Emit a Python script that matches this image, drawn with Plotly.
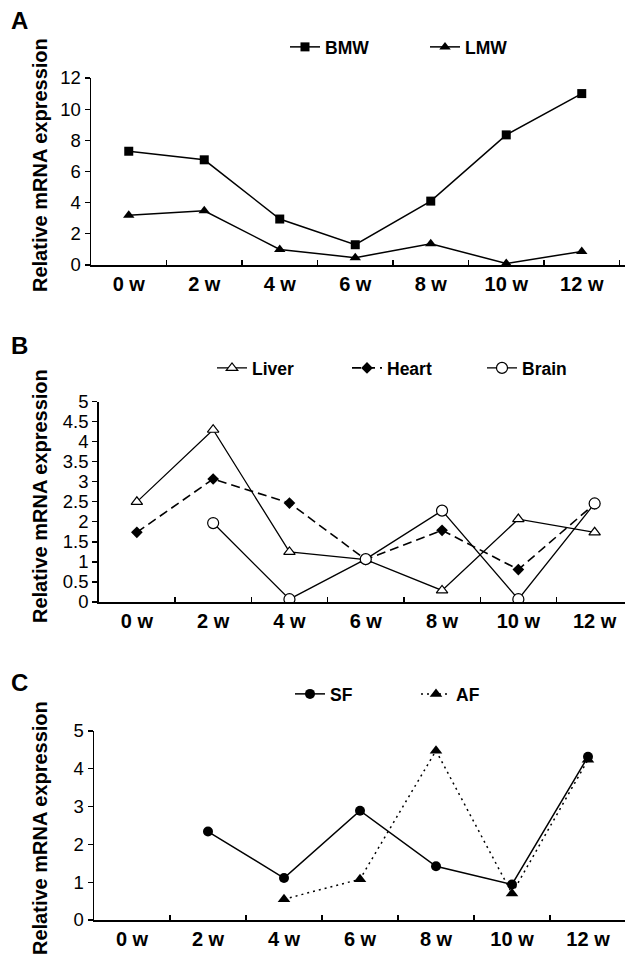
import plotly.graph_objects as go

weeks = ["0 w", "2 w", "4 w", "6 w", "8 w", "10 w", "12 w"]

# Panel A
bmw = [7.3, 6.75, 2.95, 1.3, 4.1, 8.35, 11.0]
lmw = [3.2, 3.48, 1.0, 0.47, 1.36, 0.1, 0.87]

# Panel B
liver = [2.5, 4.3, 1.25, 1.06, 0.29, 2.07, 1.74]
heart = [1.74, 3.07, 2.47, 1.06, 1.79, 0.81, 2.45]
brain = [None, 1.97, 0.07, 1.07, 2.28, 0.07, 2.46]

# Panel C
sf = [None, 2.34, 1.11, 2.89, 1.42, 0.94, 4.32]
af = [None, None, 0.55, 1.08, 4.48, 0.70, 4.24]

W, H = 625, 962
FONT = "Liberation Sans, Arial, sans-serif"
BLK = "black"


def py(v):
    return 1 - v / H


def px(v):
    return v / W


fig = go.Figure()

line = dict(color=BLK, width=1.5)

# A
fig.add_trace(go.Scatter(x=weeks, y=bmw, name="BMW", mode="lines+markers",
                         line=line, marker=dict(symbol="square", size=9, color=BLK),
                         xaxis="x", yaxis="y", legend="legend"))
fig.add_trace(go.Scatter(x=weeks, y=lmw, name="LMW", mode="lines+markers",
                         line=line, marker=dict(symbol="triangle-up", size=10, color=BLK),
                         xaxis="x", yaxis="y", legend="legend"))
# B
fig.add_trace(go.Scatter(x=weeks, y=liver, name="Liver", mode="lines+markers",
                         line=dict(color=BLK, width=1.3),
                         marker=dict(symbol="triangle-up", size=10, color="white",
                                     line=dict(color=BLK, width=1.2)),
                         xaxis="x2", yaxis="y2", legend="legend2"))
fig.add_trace(go.Scatter(x=weeks, y=heart, name="Heart", mode="lines+markers",
                         line=dict(color=BLK, width=1.6, dash="9px,5px"),
                         marker=dict(symbol="diamond", size=9, color=BLK),
                         xaxis="x2", yaxis="y2", legend="legend2"))
fig.add_trace(go.Scatter(x=weeks, y=brain, name="Brain", mode="lines+markers",
                         line=dict(color=BLK, width=1.3),
                         marker=dict(symbol="circle", size=11, color="white",
                                     line=dict(color=BLK, width=1.2)),
                         xaxis="x2", yaxis="y2", legend="legend2"))
# C
fig.add_trace(go.Scatter(x=weeks, y=sf, name="SF", mode="lines+markers",
                         line=line, marker=dict(symbol="circle", size=10, color=BLK),
                         xaxis="x3", yaxis="y3", legend="legend3"))
fig.add_trace(go.Scatter(x=weeks, y=af, name="AF", mode="lines+markers",
                         line=dict(color=BLK, width=1.5, dash="2px,4px"),
                         marker=dict(symbol="triangle-up", size=11, color=BLK),
                         xaxis="x3", yaxis="y3", legend="legend3"))


def xax(domain, anchor, rng):
    return dict(domain=domain, anchor=anchor, type="category",
                categoryorder="array", categoryarray=weeks,
                range=rng, tickson="boundaries", ticks="inside", ticklen=5,
                tickwidth=1.2, tickcolor=BLK, showline=True, linecolor=BLK,
                linewidth=1.5, showgrid=False, zeroline=False,
                tickfont=dict(family=FONT, size=20, color=BLK, weight="bold"),
                fixedrange=True, automargin=False)


def yax(domain, anchor, rng, dtick):
    return dict(domain=domain, anchor=anchor, range=rng, dtick=dtick,
                ticks="outside", ticklen=5, tickwidth=1.2, tickcolor=BLK,
                showline=True, linecolor=BLK, linewidth=1.5, showgrid=False,
                zeroline=False,
                tickfont=dict(family=FONT, size=18.5, color=BLK),
                fixedrange=True, automargin=False)


def leg(x, y, ew):
    return dict(orientation="h", x=x, y=y, xanchor="left", yanchor="middle",
                bgcolor="rgba(0,0,0,0)", entrywidth=ew, entrywidthmode="pixels",
                font=dict(family=FONT, size=17.5, color=BLK, weight="bold"),
                itemwidth=30)


fig.update_layout(
    width=W, height=H, autosize=False,
    margin=dict(l=0, r=0, t=0, b=0, pad=0),
    paper_bgcolor="white", plot_bgcolor="white",
    showlegend=True,
    font=dict(family=FONT, color=BLK),
    xaxis=xax([px(91), 1.0], "y", [-0.5, -0.5 + (W - 91) / 75.5]),
    yaxis=yax([py(265), py(78)], "x", [0, 12], 2),
    xaxis2=xax([px(98.7), 1.0], "y2", [-0.5, -0.5 + (W - 98.7) / 76.3]),
    yaxis2=yax([py(602), py(401.7)], "x2", [0, 5], 0.5),
    xaxis3=xax([px(94), 1.0], "y3", [-0.5, -0.5 + (W - 94) / 76]),
    yaxis3=yax([py(920), py(731)], "x3", [0, 5], 1),
    legend=leg(px(285), py(47), 95),
    legend2=leg(px(212), py(368), 90),
    legend3=leg(px(290), py(694), 81),
)

ytitle = "Relative mRNA expression"
for yc in (165, 496, 828):
    fig.add_annotation(text=ytitle, textangle=-90, x=px(40), y=py(yc),
                       xref="paper", yref="paper", xanchor="center", yanchor="middle",
                       showarrow=False,
                       font=dict(family=FONT, size=20, color=BLK, weight="bold"))

for letter, yc in (("A", 21), ("B", 345), ("C", 682)):
    fig.add_annotation(text=letter, x=px(19), y=py(yc), xref="paper", yref="paper",
                       xanchor="center", yanchor="middle", showarrow=False,
                       font=dict(family=FONT, size=24, color=BLK, weight="bold"))

page_css = ("document.documentElement.style.margin='0';"
            "document.body.style.margin='0';"
            "document.body.style.padding='0';"
            "document.documentElement.style.overflow='hidden';"
            "document.body.style.overflow='hidden';")

fig.write_html("out.html", post_script=page_css,
               config={"displayModeBar": False, "staticPlot": True})
